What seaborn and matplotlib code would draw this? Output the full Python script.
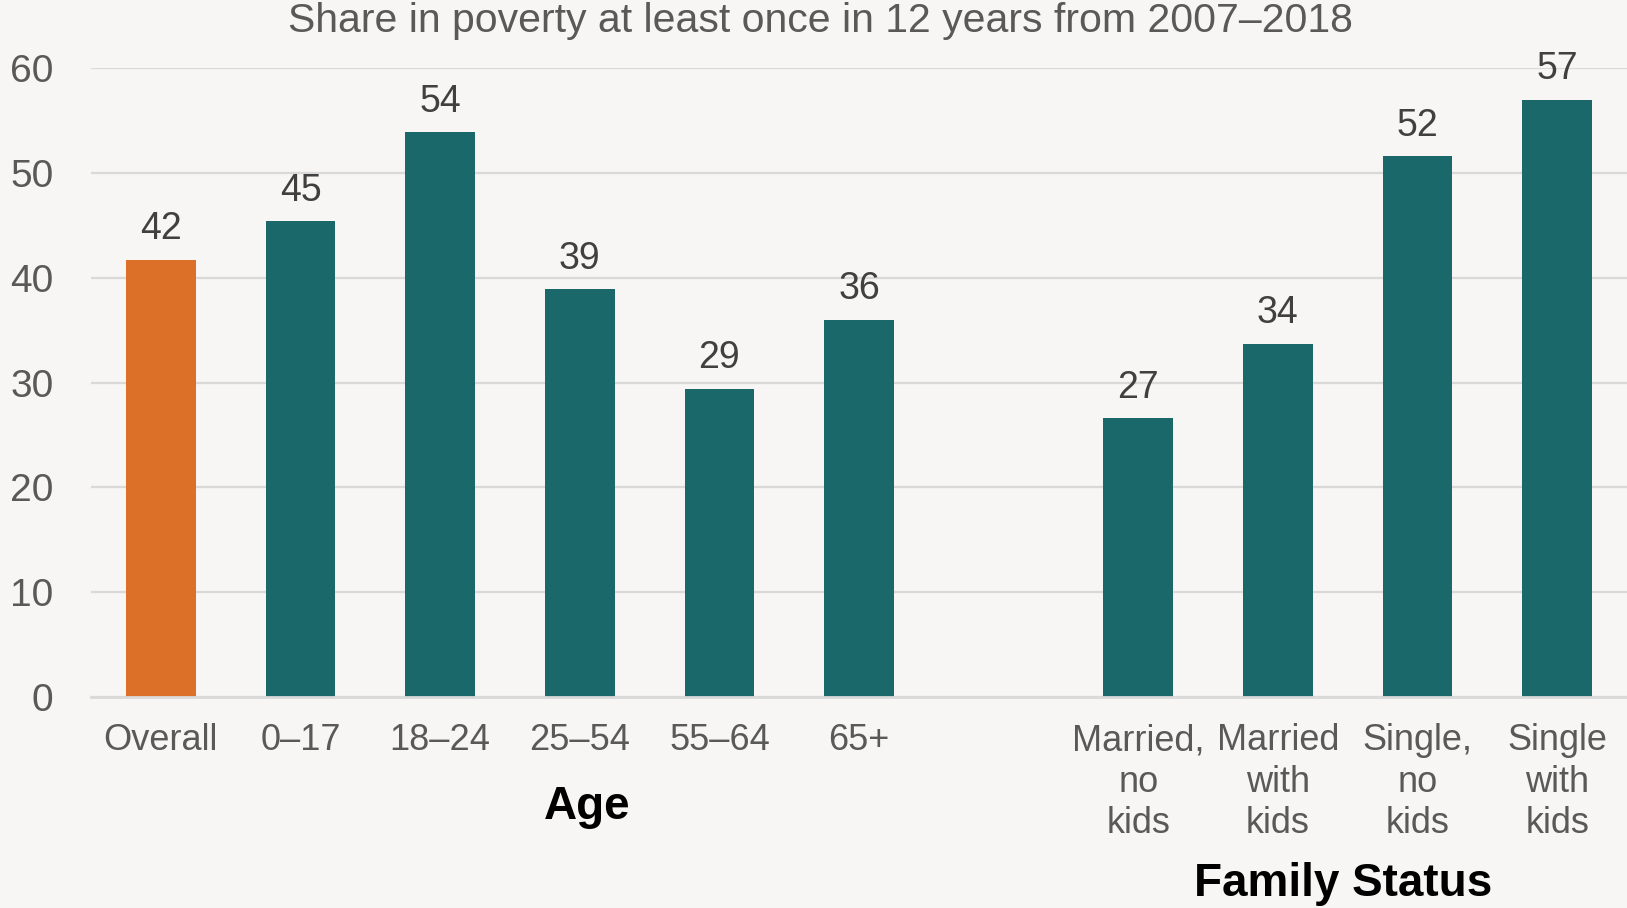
import matplotlib
matplotlib.use("Agg")
import matplotlib.pyplot as plt
import matplotlib.transforms as mtransforms
import seaborn as sns
import pandas as pd

# Share of people in poverty at least once over 2007-2018, by group
categories = ["Overall", "0–17", "18–24", "25–54", "55–64", "65+",
              "Married,\nno\nkids", "Married\nwith\nkids",
              "Single,\nno\nkids", "Single\nwith\nkids"]
values = [41.7, 45.4, 53.9, 38.9, 29.4, 36.0, 26.6, 33.7, 51.6, 57.0]
groups = ["Overall", "Age", "Age", "Age", "Age", "Age",
          "Family", "Family", "Family", "Family"]
y_ticks = [0, 10, 20, 30, 40, 50, 60]

title = "Share in poverty at least once in 12 years from 2007–2018"
group_titles = {"Age": "Age", "Family": "Family Status"}

BG = "#F7F6F4"
ORANGE = "#DC7029"
TEAL = "#1B686B"
GRID = "#D9D9D9"
TEXT_GRAY = "#595959"
LABEL_DARK = "#404040"

sns.set_theme(style="white")
plt.rcParams["font.family"] = ["Liberation Sans", "DejaVu Sans"]

df = pd.DataFrame({"category": categories, "value": values, "group": groups})
# a blank slot separates the age bars from the family-status bars
order = categories[:6] + [" "] + categories[6:]

fig = plt.figure(figsize=(16.27, 9.08), dpi=100, facecolor=BG)
ax = fig.add_axes([0.056, 0.2324, 0.944, 0.6922])
ax.set_facecolor(BG)

sns.barplot(data=df, x="category", y="value", hue="group", order=order,
            palette={"Overall": ORANGE, "Age": TEAL, "Family": TEAL},
            dodge=False, width=0.5, legend=False, saturation=1,
            edgecolor="none", ax=ax)

ax.set_xlim(-0.5, len(order) - 0.5)
ax.set_ylim(0, 60)
ax.set_yticks(y_ticks)
ax.set_yticklabels([str(t) for t in y_ticks])
ax.yaxis.grid(True, color=GRID, linewidth=1.6)
ax.set_axisbelow(True)
for side in ["top", "right", "left"]:
    ax.spines[side].set_visible(False)
ax.spines["bottom"].set_color(GRID)
ax.spines["bottom"].set_linewidth(2)
ax.set_xlabel("")
ax.set_ylabel("")
ax.tick_params(axis="y", length=0, pad=27, labelsize=28, labelcolor=TEXT_GRAY)
ax.tick_params(axis="x", length=0, pad=19, labelsize=26, labelcolor=TEXT_GRAY)
for lbl in ax.get_xticklabels():
    lbl.set_horizontalalignment("center")
    lbl.set_verticalalignment("top")
    lbl.set_linespacing(1.23)

# value labels above each bar
positions = [order.index(c) for c in categories]
for x, v in zip(positions, values):
    ax.annotate(f"{v:.0f}", xy=(x, v), xytext=(0, 15), textcoords="offset points",
                ha="center", va="baseline", fontsize=27, color=LABEL_DARK,
                annotation_clip=False)

fig.text(0.504, 0.977, title, ha="center", va="center", fontsize=29.5,
         color=TEXT_GRAY)

# group headings below the tick labels
trans = mtransforms.blended_transform_factory(ax.transData, fig.transFigure)
ax.text(3.05, 0.1114, group_titles["Age"], transform=trans, ha="center",
        va="center", fontsize=33, fontweight="bold", color="black")
ax.text(8.47, 0.0262, group_titles["Family"], transform=trans, ha="center",
        va="center", fontsize=33, fontweight="bold", color="black")

fig.savefig("out.png", dpi=100, facecolor=BG)
